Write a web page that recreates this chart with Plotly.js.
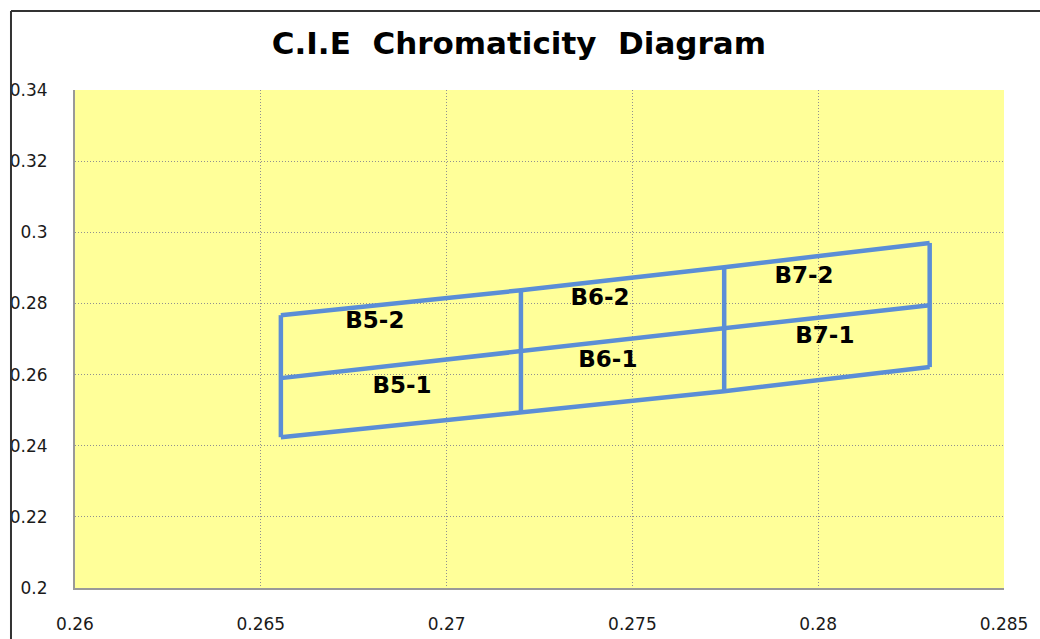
<!DOCTYPE html>
<html>
<head>
<meta charset="utf-8">
<script src="https://cdn.plot.ly/plotly-3.0.1.min.js"></script>
<style>
html,body{margin:0;padding:0;background:#fff;}
#chart{width:1040px;height:639px;}
</style>
</head>
<body>
<div id="chart"></div>
<script>
// Bin boundary nodes (CIE x) and y values along the three boundary lines
var xNodes   = [0.26554, 0.2720, 0.27747, 0.2830];
var yTop     = [0.2767, 0.2837, 0.2902, 0.2970];
var yMid     = [0.2590, 0.2666, 0.2730, 0.2795];
var yBottom  = [0.2424, 0.2494, 0.2553, 0.2621];

// Bin labels
var binNames = ["B5-2", "B5-1", "B6-2", "B6-1", "B7-2", "B7-1"];
var binX     = [0.26807, 0.2688, 0.27413, 0.27434, 0.27962, 0.28018];
var binY     = [0.2747, 0.2565, 0.2812, 0.2638, 0.2874, 0.2705];

var xTicks = [0.26, 0.265, 0.27, 0.275, 0.28, 0.285];
var xTickText = ["0.26", "0.265", "0.27", "0.275", "0.28", "0.285"];
var yTicks = [0.2, 0.22, 0.24, 0.26, 0.28, 0.3, 0.32, 0.34];
var yTickText = ["0.2", "0.22", "0.24", "0.26", "0.28", "0.3", "0.32", "0.34"];

var lineColor = "#5B8ED6";
var traces = [];
[yTop, yMid, yBottom].forEach(function (ys) {
  traces.push({x: xNodes, y: ys, mode: "lines", type: "scatter",
    line: {color: lineColor, width: 4.5}, hoverinfo: "skip", showlegend: false});
});
xNodes.forEach(function (xv, i) {
  traces.push({x: [xv, xv, xv], y: [yTop[i], yMid[i], yBottom[i]], mode: "lines", type: "scatter",
    line: {color: lineColor, width: 4.5}, hoverinfo: "skip", showlegend: false});
});
traces.push({x: binX, y: binY, mode: "text", type: "scatter", text: binNames,
  textfont: {family: "DejaVu Sans", size: 23, color: "#000", weight: "bold"},
  textposition: "middle center", hoverinfo: "skip", showlegend: false});

var tickFont = {family: "DejaVu Sans", size: 17, color: "#1a1a1a"};
var layout = {
  width: 1040, height: 639,
  margin: {l: 75, r: 36, t: 90, b: 51},
  paper_bgcolor: "#ffffff",
  plot_bgcolor: "#FFFF99",
  title: {text: "<b>C.I.E&nbsp; Chromaticity&nbsp; Diagram</b>", x: 0.499, xref: "container", xanchor: "center",
    y: 0.933, yanchor: "middle", yref: "container",
    font: {family: "DejaVu Sans", size: 31, color: "#000"}},
  xaxis: {range: [0.26, 0.285], tickvals: xTicks, ticktext: xTickText, tickfont: tickFont,
    showgrid: true, gridcolor: "#909090", griddash: "1px,2px", gridwidth: 1,
    showline: true, linecolor: "#999", linewidth: 2, mirror: false,
    zeroline: false, ticks: "", ticklabelstandoff: 20, fixedrange: true},
  yaxis: {range: [0.2, 0.34], tickvals: yTicks, ticktext: yTickText, tickfont: tickFont,
    showgrid: true, gridcolor: "#909090", griddash: "1px,2px", gridwidth: 1,
    showline: true, linecolor: "#999", linewidth: 2, mirror: false,
    zeroline: false, ticks: "", ticklabelstandoff: 22, fixedrange: true},
  shapes: [
    {type: "line", xref: "paper", yref: "paper", x0: -0.0689, x1: 1.05, y0: 1.1586, y1: 1.1586,
      line: {color: "#333", width: 2}, layer: "above"},
    {type: "line", xref: "paper", yref: "paper", x0: -0.0689, x1: -0.0689, y0: 1.1586, y1: -0.2,
      line: {color: "#333", width: 2}, layer: "above"}
  ],
  showlegend: false
};
Plotly.newPlot("chart", traces, layout, {displayModeBar: false, staticPlot: true});
</script>
</body>
</html>
